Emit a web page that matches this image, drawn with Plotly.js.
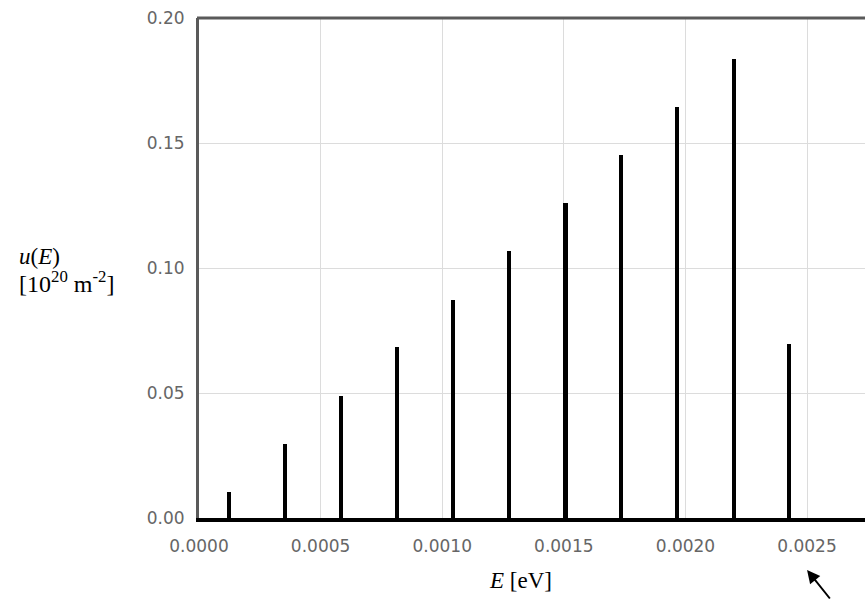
<!DOCTYPE html>
<html>
<head>
<meta charset="utf-8">
<script src="https://cdn.plot.ly/plotly-3.0.1.min.js"></script>
<style>html,body{margin:0;padding:0;background:#fff;}#chart{width:865px;height:601px;}</style>
</head>
<body>
<div id="chart"></div>
<script>
// Energy levels E [eV] and u(E) [10^20 m^-2]
var energies = [0.000123, 0.000354, 0.000584, 0.000814, 0.001044, 0.001275, 0.001507, 0.001737, 0.001966, 0.002198, 0.002428];
var uValues  = [0.0104, 0.0296, 0.0488, 0.0684, 0.0872, 0.1068, 0.1260, 0.1452, 0.1644, 0.1836, 0.0696];
var xTickVals = [0, 0.0005, 0.0010, 0.0015, 0.0020, 0.0025];
var xTickText = ['0.0000', '0.0005', '0.0010', '0.0015', '0.0020', '0.0025'];
var yTickVals = [0, 0.05, 0.10, 0.15, 0.20];
var yTickText = ['0.00', '0.05', '0.10', '0.15', '0.20'];

var trace = {
  type: 'bar',
  x: energies,
  y: uValues,
  width: 0.0000165,
  marker: {color: '#000000', line: {width: 0}},
  hoverinfo: 'x+y'
};

var tickFont = {family: 'DejaVu Sans', size: 17, color: '#666666'};
var serif = 'Liberation Serif, Times New Roman, serif';

var layout = {
  width: 865,
  height: 601,
  margin: {l: 199, r: 0, t: 18, b: 83},
  paper_bgcolor: '#ffffff',
  plot_bgcolor: '#ffffff',
  showlegend: false,
  bargap: 0,
  xaxis: {
    range: [0, 0.0027385],
    tickvals: xTickVals,
    ticktext: xTickText,
    tickfont: tickFont,
    ticks: 'outside',
    ticklen: 10,
    tickcolor: 'rgba(0,0,0,0)',
    showgrid: true,
    gridcolor: '#dcdcdc',
    gridwidth: 1,
    zeroline: false,
    showline: true,
    linecolor: '#000000',
    linewidth: 4
  },
  yaxis: {
    range: [0, 0.2],
    tickvals: yTickVals,
    ticktext: yTickText,
    tickfont: tickFont,
    ticks: 'outside',
    ticklen: 8,
    tickcolor: 'rgba(0,0,0,0)',
    showgrid: true,
    gridcolor: '#dcdcdc',
    gridwidth: 1,
    zeroline: false,
    showline: true,
    linecolor: '#5a5a5a',
    linewidth: 3
  },
  shapes: [
    {type: 'line', xref: 'paper', yref: 'paper', x0: -0.003, x1: 1, y0: 1, y1: 1,
     line: {color: '#5a5a5a', width: 3}}
  ],
  annotations: [
    {xref: 'paper', yref: 'paper', x: -0.274, y: 0.524, xanchor: 'left', yanchor: 'middle',
     align: 'left', showarrow: false,
     text: '<i>u</i>(<i>E</i>)',
     font: {family: serif, size: 23, color: '#000000'}},
    {xref: 'paper', yref: 'paper', x: -0.274, y: 0.472, xanchor: 'left', yanchor: 'middle',
     align: 'left', showarrow: false,
     text: '[10<sup>20</sup> m<sup>-2</sup>]',
     font: {family: serif, size: 24, color: '#000000'}},
    {xref: 'paper', yref: 'paper', x: 0.482, y: -0.125, xanchor: 'center', yanchor: 'middle',
     showarrow: false,
     text: '<i>E</i> [eV]',
     font: {family: serif, size: 23, color: '#000000'}},
    {xref: 'paper', yref: 'paper', x: 0.913, y: -0.104, text: '', showarrow: true,
     arrowhead: 2, arrowsize: 1.3, arrowwidth: 2, arrowcolor: '#000000',
     ax: 24, ay: 30}
  ]
};

Plotly.newPlot('chart', [trace], layout, {displayModeBar: false, staticPlot: true});
</script>
</body>
</html>
